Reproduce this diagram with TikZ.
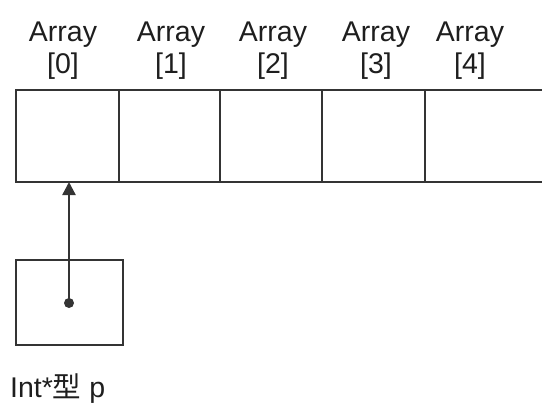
\documentclass[tikz,border=0pt]{standalone}
\usepackage{fontspec}
\setmainfont{Liberation Sans}
\newfontfamily\cjk{Noto Sans CJK SC}
\usetikzlibrary{arrows.meta}
\definecolor{linegray}{RGB}{52,52,52}
\definecolor{textgray}{RGB}{30,30,30}
\begin{document}
\begin{tikzpicture}[x=1pt,y=-1pt,
  frame/.style={draw=linegray,line width=2.3pt},
  cell/.style={inner sep=0pt,minimum height=92pt},
  idx/.style={inner sep=0pt,anchor=north,align=center,text=textgray,
    font=\fontsize{28.5}{32}\selectfont},
  tag/.style={inner sep=0pt,anchor=base west,text=textgray,
    font=\fontsize{28.5}{32}\selectfont},
  ptr/.style={draw=linegray,line width=2.3pt,
    -{Triangle[width=13pt,length=13pt]}}]
\useasboundingbox (0,0) rectangle (542,405);
% array cells (the last one runs off to the right)
\node[cell,minimum width=103pt] (c0) at (67.5,136) {};
\node[cell,minimum width=101pt] (c1) at (169.5,136) {};
\node[cell,minimum width=102pt] (c2) at (271,136) {};
\node[cell,minimum width=103pt] (c3) at (373.5,136) {};
\node[cell,minimum width=117pt] (c4) at (483.5,136) {};
\draw[frame] (c4.north east) -- (c0.north west) -- (c0.south west) -- (c4.south east);
\draw[frame] (c0.north east) -- (c0.south east);
\draw[frame] (c1.north east) -- (c1.south east);
\draw[frame] (c2.north east) -- (c2.south east);
\draw[frame] (c3.north east) -- (c3.south east);
% index labels
\node[idx] (l0) at (63,22) {Array\\{[0]}};
\node[idx] (l1) at (171,22) {Array\\{[1]}};
\node[idx] (l2) at (273,22) {Array\\{[2]}};
\node[idx] (l3) at (376,22) {Array\\{[3]}};
\node[idx] (l4) at (470,22) {Array\\{[4]}};
% pointer variable
\node[frame,inner sep=0pt,minimum width=107pt,minimum height=85pt] (p) at (69.5,302.5) {};
\coordinate (pdot) at (69,303);
\fill[linegray] (pdot) circle (5pt);
\coordinate (tip) at (69,182);
\draw[ptr] (pdot) -- (tip);
\node[tag] (pname) at (10,397) {Int*{\cjk 型} p};
\end{tikzpicture}
\end{document}
